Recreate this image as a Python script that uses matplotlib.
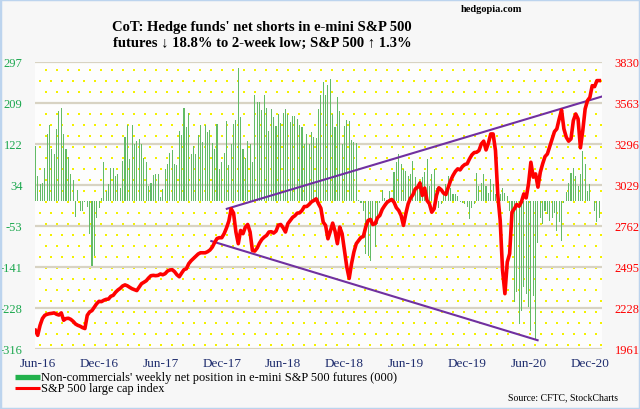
import numpy as np
import pandas as pd
import matplotlib
matplotlib.use("Agg")
import matplotlib.pyplot as plt
from matplotlib.lines import Line2D
from matplotlib.patches import Rectangle

# Non-commercials' weekly net position in e-mini S&P 500 futures (000 contracts)
net_position = [
    117, 53, 36, 39, 71, 143, 161, 110, 99, 153, 192, 199, 142, 110, 94, 58, 44, -34, 23, -21,
    -21, -3, -14, -71, -138, -117, -36, -16, 7, 82, 21, 36, 71, 70, 53, 57, 28, 85, 136, 162,
    89, 162, 121, 128, 133, 121, 91, 83, 32, 39, 55, 57, 58, 9, 25, 69, 78, 102, 109, 78,
    76, 149, 141, 199, 158, 187, 101, 117, 101, 140, 161, 126, 161, 146, 151, 124, 111, 165, 67,
    82, 103, 170, 76, 121, 165, 172, 284, 179, 110, 92, 128, 121, 82, 225, 211, 211, 195, 227, 199,
    149, 197, 179, 160, 185, 167, 187, 197, 185, 168, 181, 182, 174, 163, 158, 122, 143, 122, 148, 136,
    135,
    197, 227, 254, 225, 248, 261, 185, 158, 222, 192, 122, 160, 172, 170, 131, 126, 124, 2, -4, -21,
    -114, -117, -129, -50, -99, -50, -4, 23, 7, 1, 21, 7, 62, 82, 99, 78, 67, 64, 53, 57,
    85,
    50, 32, 43, 51, 62, 89, 32, 57, 67, 28, -16, -7, 14, 36, 53, 28, 14, 14, 11, -2,
    -4, -7, -14, -39, -16, -7, 60, 32, 39, 57, 32, 16, 46, 36, 14, 21, 14, 28, 16, 11,
    -21, -28, -216, -195, -262, -234, -184, -199, -227, -277, -202, -294, -90, -36, -50, -21, -28, -43, -36, -25,
    -64, -46, -85, -5, 18, 39, 60, 71, 53, 32, 57, 106, 78, 21, 36, 0, -21, -44, -36,
]

# S&P 500 large cap index, weekly
spx = [
    2083, 2050, 2115, 2159, 2180, 2187, 2191, 2193, 2196, 2187, 2182, 2196, 2148, 2159, 2161, 2154, 2141, 2124, 2115, 2109,
    2100, 2094, 2180, 2202, 2211, 2234, 2256, 2271, 2269, 2278, 2284, 2286, 2304, 2310, 2330, 2345, 2356, 2371, 2378, 2372,
    2362, 2353, 2347, 2341, 2364, 2386, 2395, 2405, 2423, 2438, 2440, 2438, 2440, 2449, 2444, 2451, 2468, 2475, 2477, 2464,
    2444, 2431, 2455, 2477, 2483, 2516, 2535, 2550, 2566, 2579, 2587, 2587, 2587, 2594, 2605, 2624, 2654, 2680, 2685,
    2685, 2711, 2748, 2793, 2873, 2845, 2722, 2646, 2732, 2711, 2754, 2771, 2722, 2602, 2598, 2618, 2650, 2674, 2689, 2700,
    2722, 2724, 2715, 2728, 2767, 2771, 2750, 2722, 2776, 2797, 2817, 2828, 2845, 2847, 2862, 2888, 2888, 2901, 2918, 2927,
    2938,
    2906, 2877, 2786, 2765, 2678, 2726, 2780, 2728, 2646, 2754, 2711, 2602, 2494, 2420, 2516, 2592, 2646, 2667, 2687, 2693,
    2754, 2797, 2804, 2771, 2776, 2815, 2830, 2869, 2893, 2914, 2925, 2934, 2916, 2880, 2862, 2830, 2765, 2841, 2906, 2942,
    2964,
    3002, 3013, 3041, 2960, 3008, 2927, 2906, 2851, 2873, 2960, 3010, 2997, 2975, 2966, 3014, 3057, 3090, 3116, 3133, 3126,
    3148, 3161, 3166, 3198, 3224, 3239, 3241, 3252, 3295, 3313, 3256, 3300, 3360, 3360, 3252, 2960, 2797, 2473, 2321, 2527,
    2581, 2851, 2873, 2901, 2890, 2918, 2970, 2944, 3035, 3176, 3079, 3100, 3014, 3111, 3166, 3213, 3230, 3278, 3328, 3375,
    3393, 3458, 3515, 3393, 3339, 3313, 3328, 3447, 3490, 3458, 3270, 3382, 3523, 3577, 3598, 3674, 3668, 3707, 3707,
]

week_end = pd.date_range(end="2020-12-08", periods=len(net_position), freq="7D")

date_labels = ["Jun-16", "Dec-16", "Jun-17", "Dec-17", "Jun-18",
               "Dec-18", "Jun-19", "Dec-19", "Jun-20", "Dec-20"]
left_ticks = [-316, -228, -141, -53, 34, 122, 209, 297]
right_ticks = [1961, 2228, 2495, 2762, 3029, 3296, 3563, 3830]

# trend lines drawn on the S&P 500
upper_trend_dates = pd.to_datetime(["2017-11-29", "2020-12-15"])
upper_trend_vals = [2873, 3603]
lower_trend_dates = pd.to_datetime(["2017-10-14", "2020-06-08"])
lower_trend_vals = [2663, 2018]

serif = ["Liberation Serif", "DejaVu Serif"]
GREEN = "#1ca84f"
RED = "#ff0000"
NAVY = "#1f2d6e"
W, H = 640, 410

fig = plt.figure(figsize=(6.4, 4.1), dpi=100, facecolor="#f7f7f7")
ax = fig.add_axes([35 / W, 1 - 350 / H, 567 / W, 287.3 / H])
ax.set_facecolor("#fdfdfd")

# yellow dotted backdrop
px, py = 567, 287
xs, ys = [], []
for j, yy in enumerate(np.arange(4, py, 11)):
    for xx in np.arange(5 + 5.5 * (j % 2), px, 11):
        xs.append(xx / px)
        ys.append(yy / py)
ax.scatter(xs, ys, s=0.8, marker="s", color="#f3f100", lw=0, transform=ax.transAxes, zorder=0.3)

ax.bar(week_end, net_position, width=3.2, color="#62bb66", zorder=2)
ax.set_ylim(-316, 297)
ax.set_yticks(left_ticks)
ax.set_yticklabels([str(v) for v in left_ticks])
ax.yaxis.grid(True, color="#d8d3c3", lw=1.6, zorder=1)
ax.set_axisbelow(True)
ax.set_xlim(week_end[0] - pd.Timedelta(days=1), week_end[-1] + pd.Timedelta(days=8))
ax.set_xticks(week_end[1::26])
ax.set_xticklabels(date_labels)

ax2 = ax.twinx()
ax2.plot(upper_trend_dates, upper_trend_vals, color="#7030a0", lw=1.5, zorder=3)
ax2.plot(lower_trend_dates, lower_trend_vals, color="#7030a0", lw=1.5, zorder=3)
ax2.plot(week_end, spx, color=RED, lw=2.6, zorder=4, solid_joinstyle="round")
ax2.set_ylim(1961, 3830)
ax2.set_yticks(right_ticks)
ax2.set_yticklabels([str(v) for v in right_ticks])

for a in (ax, ax2):
    for s in a.spines.values():
        s.set_visible(False)
    a.tick_params(length=0)
ax.tick_params(axis="y", pad=9, labelcolor=GREEN, labelsize=9)
ax.tick_params(axis="x", pad=6, labelcolor=NAVY, labelsize=9.5)
ax2.tick_params(axis="y", pad=9, labelcolor=RED, labelsize=9)
for lab in ax.get_xticklabels() + ax.get_yticklabels() + ax2.get_yticklabels():
    lab.set_family(serif)

# titles and notes
fig.text(262 / W, 1 - 27 / H, "CoT: Hedge funds' net shorts in e-mini S&P 500",
         ha="center", va="center", fontsize=10.5, weight="bold", family=serif)
fig.text(262 / W, 1 - 43 / H, "futures \u2193 18.8% to 2-week low; S&P 500 \u2191 1.3%",
         ha="center", va="center", fontsize=10.5, weight="bold", family=serif)
fig.text(522 / W, 1 - 10 / H, "hedgopia.com", ha="right", va="center",
         fontsize=7.5, weight="bold", family=serif)
fig.text(618 / W, 1 - 398 / H, "Source: CFTC, StockCharts", ha="right", va="center",
         fontsize=7, family=serif)

# legend
fig.add_artist(Line2D([15 / W, 40 / W], [1 - 377.7 / H] * 2, color="#22b14c", lw=3.8,
                      solid_capstyle="butt"))
fig.text(41 / W, 1 - 377.7 / H,
         "Non-commercials' weekly net position in e-mini S&P 500 futures (000)",
         ha="left", va="center", fontsize=8.9, family=serif)
fig.add_artist(Line2D([15 / W, 40 / W], [1 - 389 / H] * 2, color=RED, lw=2.2,
                      solid_capstyle="butt"))
fig.text(41 / W, 1 - 389 / H, "S&P 500 large cap index",
         ha="left", va="center", fontsize=8.9, family=serif)

fig.add_artist(Rectangle((0, 0), 1, 1, transform=fig.transFigure, fill=False,
                         ec="#bcd4ee", lw=2.5))

fig.savefig("out.png", dpi=100, facecolor=fig.get_facecolor())
